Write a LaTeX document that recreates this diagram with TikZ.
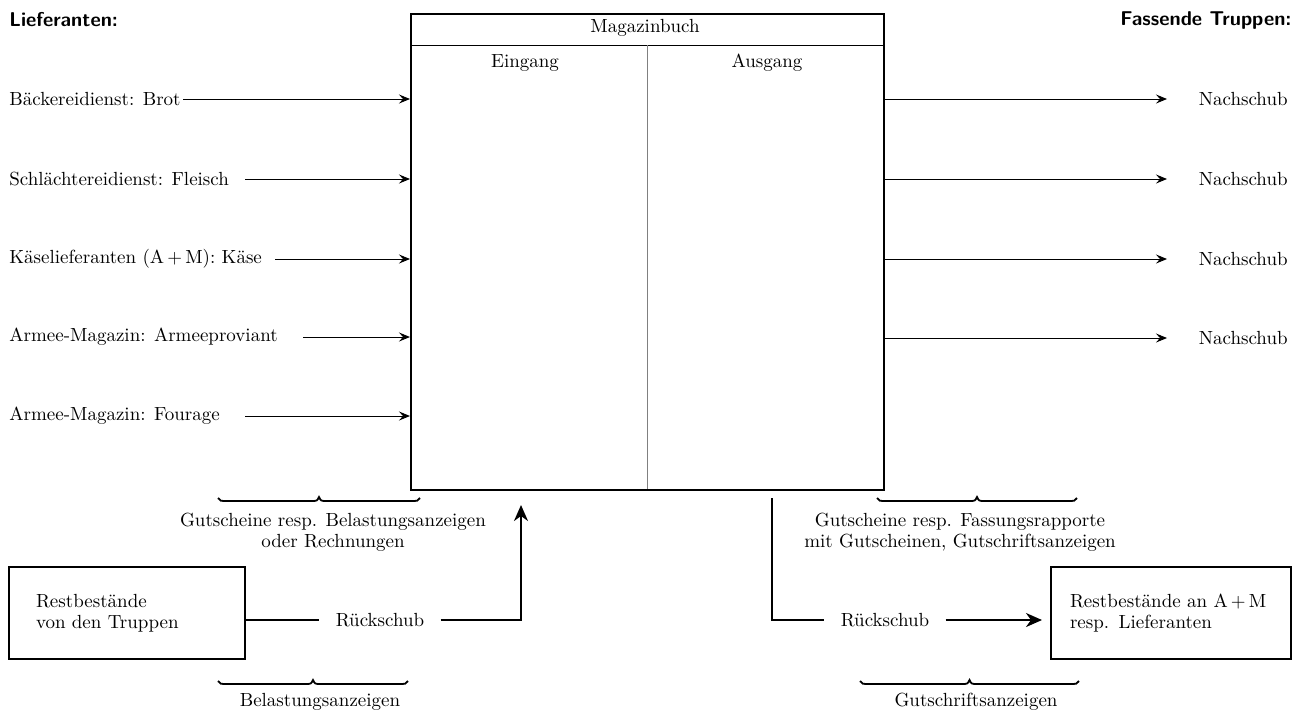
\documentclass[tikz,border=0pt]{standalone}
\usepackage{tikz}
\usetikzlibrary{arrows.meta,calc}

\begin{document}
\begin{tikzpicture}[x=0.5pt,y=-0.5pt,font=\fontsize{9.5}{10.5}\selectfont,
  frame/.style={draw,line width=1pt},
  feed/.style={line width=.5pt,-{Stealth[length=5.5pt,width=4.5pt,inset=2pt]}},
  back/.style={line width=1pt},
  backarrow/.style={line width=1pt,-{Stealth[length=8pt,width=7pt,inset=2.5pt]}},
  head/.style={font=\sffamily\bfseries\fontsize{10}{12}\selectfont},
  store/.style={frame,align=left,text width=91pt,inner xsep=13.5pt,minimum height=46pt,anchor=north west}]
\useasboundingbox (0,0) rectangle (1306,720);
% Magazinbuch
\node[frame,minimum width=236.5pt,minimum height=238pt,anchor=north west,inner sep=0pt] (buch) at (410,13) {};
\draw[line width=.4pt] (410,45) -- (883,45);
\draw[gray,line width=.3pt] (647,45) -- (647,489);
\node (titel) at (645,28) {Magazinbuch};
\node (ein) at (525,63) {Eingang};
\node (aus) at (767,63) {Ausgang};
% Lieferanten
\node[head,anchor=west,inner sep=0pt] (lief) at (9,20) {Lieferanten:};
\foreach \n/\t/\y/\s in {brot/Bäckereidienst: Brot/99/183, fleisch/Schlächtereidienst: Fleisch/179/245,
  kaese/{Käselieferanten (A\,+\,M): Käse}/259/275, proviant/Armee-Magazin: Armeeproviant/337/303,
  fourage/Armee-Magazin: Fourage/416/245}
{
  \node[anchor=west,inner sep=0pt] (\n) at (9,\y) {\t};
  \coordinate (\n-a) at (\s,\y);
  \draw[feed] (\n-a) -- (\n-a -| buch.west);
}
% Fassende Truppen
\node[head,anchor=east,inner sep=0pt] (fass) at (1292,20) {Fassende Truppen:};
\foreach \i/\y in {1/99,2/179,3/259,4/338}
{
  \node[anchor=east,inner sep=0pt] (nach\i) at (1288,\y) {Nachschub};
  \coordinate (nach\i-a) at (1167,\y);
  \draw[feed] (nach\i-a -| buch.east) -- (nach\i-a);
}
% Rueckschub links
\node[store] (restL) at (8,566) {Restbestände\\von den Truppen};
\node[inner xsep=8pt] (rueckL) at (380,620) {Rückschub};
\coordinate (einL) at (521,505);
\draw[back] (restL.east |- rueckL) -- (rueckL.west);
\draw[backarrow] (rueckL.east) -| (einL);
% Rueckschub rechts
\node[store,text width=101pt,inner xsep=9.5pt] (restR) at (1050,566) {Restbestände an A\,+\,M\\resp. Lieferanten};
\node[inner xsep=8pt] (rueckR) at (885,620) {Rückschub};
\coordinate (ausR) at (772,498);
\draw[back] (ausR) |- (rueckR.west);
\draw[backarrow,shorten >=4pt] (rueckR.east) -- (restR.west |- rueckR);
% Belege
\node[align=center] (gutL) at (333,532) {Gutscheine resp. Belastungsanzeigen\\oder Rechnungen};
\node[align=center] (gutR) at (960,532) {Gutscheine resp. Fassungsrapporte\\mit Gutscheinen, Gutschriftsanzeigen};
\node (belL) at (320,702) {Belastungsanzeigen};
\node (gutschR) at (976,702) {Gutschriftsanzeigen};
\foreach \a/\b/\y in {218/420/501, 877/1077/501, 218/408/684, 860/1079/684}
{
  \pgfmathsetmacro\m{(\a+\b)/2}
  \draw[line width=.9pt] (\a,\y-3) .. controls (\a+2,\y) .. (\a+10,\y) -- (\m-8,\y)
    .. controls (\m-2,\y) .. (\m,\y-4) .. controls (\m+2,\y) .. (\m+8,\y) -- (\b-10,\y)
    .. controls (\b-2,\y) .. (\b,\y-3);
}
\end{tikzpicture}
\end{document}
